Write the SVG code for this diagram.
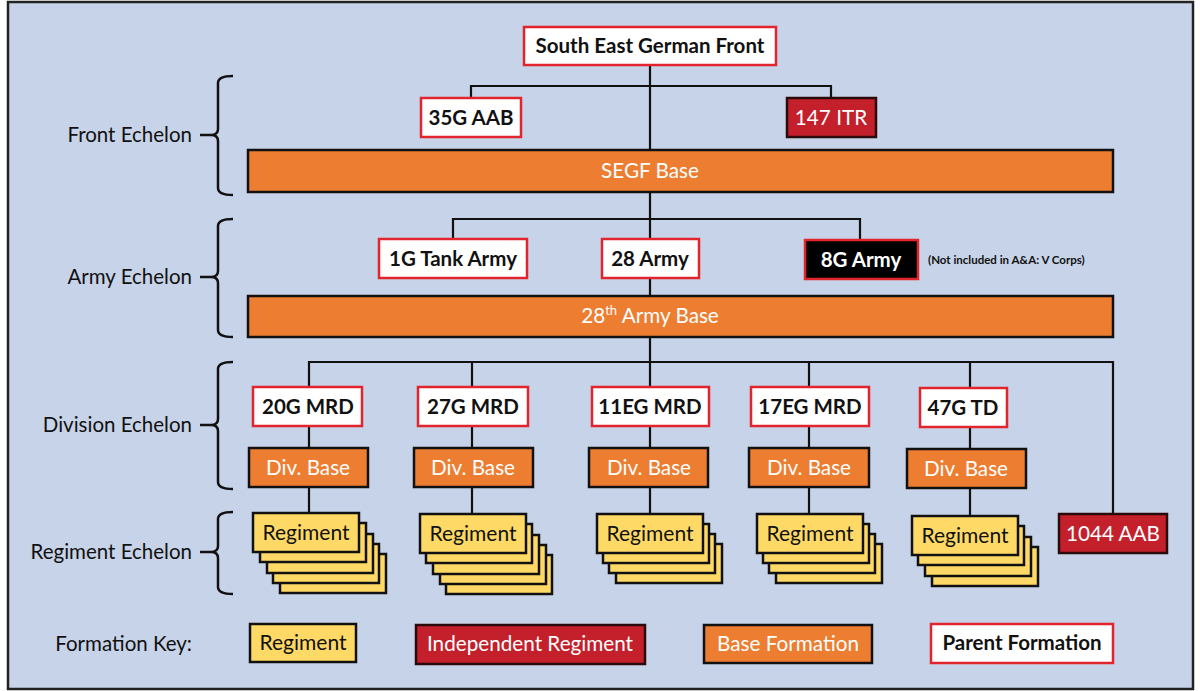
<svg xmlns="http://www.w3.org/2000/svg" width="1200" height="691" viewBox="0 0 1200 691">
<style>
text{font-family:Lato,"Liberation Sans",sans-serif}
.lbl{font-size:20.5px;fill:#111;text-anchor:end}
.par{fill:#fff;stroke:#e2252c;stroke-width:2.5}
.ind{fill:#c3202b;stroke:#2a0a0a;stroke-width:2.5}
.base{fill:#ed7d31;stroke:#111;stroke-width:2.5}
.reg{fill:#ffd966;stroke:#111;stroke-width:2.5}
.blk{fill:#000;stroke:#e2252c;stroke-width:2.5}
.tb{font-size:20.5px;font-weight:bold;fill:#111;text-anchor:middle}
.tw{font-size:20.7px;fill:#fff;text-anchor:middle}
.twb{font-size:20.5px;font-weight:bold;fill:#fff;text-anchor:middle}
.tr{font-size:21px;fill:#111;text-anchor:middle}
.ln{stroke:#111;stroke-width:2.2;fill:none}
.br{stroke:#111;stroke-width:2.5;fill:none}
</style>
<defs>
<g id="rs"><rect class="reg" x="0" y="0" width="106" height="39"/></g>
</defs>
<rect x="8" y="2" width="1185" height="687" fill="#c7d3e8" stroke="#222" stroke-width="2.5"/>

<g id="brackets">
<path class="br" d="M233,76 Q218,76 218,83 L218,129 Q218,135 211,135 Q218,135 218,141 L218,188 Q218,195 233,195 M200,135 L211,135"/>
<path class="br" d="M233,219 Q218,219 218,226 L218,271 Q218,277 211,277 Q218,277 218,283 L218,330 Q218,337 233,337 M200,277 L211,277"/>
<path class="br" d="M233,362 Q218,362 218,369 L218,419 Q218,425 211,425 Q218,425 218,431 L218,482 Q218,489 233,489 M200,425 L211,425"/>
<path class="br" d="M233,512 Q218,512 218,519 L218,546 Q218,552 211,552 Q218,552 218,558 L218,587 Q218,594 233,594 M200,552 L211,552"/>
</g>
<g id="labels">
<text class="lbl" x="192" y="142">Front Echelon</text>
<text class="lbl" x="192" y="284">Army Echelon</text>
<text class="lbl" x="192" y="432">Division Echelon</text>
<text class="lbl" x="192" y="559">Regiment Echelon</text>
<text class="lbl" x="192" y="651">Formation Key:</text>
</g>

<g id="connectors">
<path class="ln" d="M650,65 L650,514"/>
<path class="ln" d="M471,98 L471,86 L831,86 L831,98"/>
<path class="ln" d="M453,239 L453,219 L860,219 L860,240"/>
<path class="ln" d="M309,514 L309,362 L1113,362 L1113,514"/>
<path class="ln" d="M472,362 L472,514"/>
<path class="ln" d="M809,362 L809,514"/>
<path class="ln" d="M970,362 L970,516"/>
</g>

<g id="segf"><rect class="par" x="524" y="27" width="252" height="38"/><text class="tb" x="650" y="53">South East German Front</text></g>
<g id="aab35"><rect class="par" x="421" y="98" width="100" height="39"/><text class="tb" x="471" y="125">35G AAB</text></g>
<g id="itr147"><rect class="ind" x="787" y="98" width="89" height="39"/><text class="tw" x="831" y="125">147 ITR</text></g>
<g id="segfbase"><rect class="base" x="248" y="150" width="865" height="42"/><text class="tw" x="650" y="178">SEGF Base</text></g>

<g id="tank1g"><rect class="par" x="379" y="239" width="148" height="39"/><text class="tb" x="453" y="266">1G Tank Army</text></g>
<g id="army28"><rect class="par" x="602" y="239" width="97" height="39"/><text class="tb" x="650" y="266">28 Army</text></g>
<g id="army8g"><rect class="blk" x="805" y="240" width="113" height="39"/><text class="twb" x="861" y="267">8G Army</text></g>
<text x="928" y="264" font-size="11.5" font-weight="bold" fill="#111">(Not included in A&amp;A: V Corps)</text>
<g id="armybase"><rect class="base" x="248" y="296" width="865" height="41"/><text class="tw" x="650" y="323">28<tspan font-size="13" dy="-8">th</tspan><tspan dy="8"> Army Base</tspan></text></g>

<g id="div20"><rect class="par" x="253" y="387" width="109" height="39"/><text class="tb" x="308" y="414">20G MRD</text>
<rect class="base" x="249" y="448" width="119" height="39"/><text class="tw" x="308" y="475">Div. Base</text></g>
<g id="div27"><rect class="par" x="418" y="387" width="110" height="39"/><text class="tb" x="473" y="414">27G MRD</text>
<rect class="base" x="414" y="448" width="119" height="39"/><text class="tw" x="473" y="475">Div. Base</text></g>
<g id="div11"><rect class="par" x="592" y="387" width="117" height="39"/><text class="tb" x="650" y="414">11EG MRD</text>
<rect class="base" x="589" y="448" width="119" height="39"/><text class="tw" x="649" y="475">Div. Base</text></g>
<g id="div17"><rect class="par" x="751" y="387" width="118" height="39"/><text class="tb" x="810" y="414">17EG MRD</text>
<rect class="base" x="749" y="448" width="120" height="39"/><text class="tw" x="809" y="475">Div. Base</text></g>
<g id="div47"><rect class="par" x="920" y="388" width="87" height="39"/><text class="tb" x="963" y="415">47G TD</text>
<rect class="base" x="907" y="449" width="119" height="39"/><text class="tw" x="966" y="476">Div. Base</text></g>

<g id="reg20">
<use href="#rs" x="280" y="554"/><use href="#rs" x="273" y="544"/><use href="#rs" x="267" y="534"/><use href="#rs" x="260" y="523"/><use href="#rs" x="253" y="513"/>
<text class="tr" x="306" y="540">Regiment</text></g>
<g id="reg27">
<use href="#rs" x="446" y="555"/><use href="#rs" x="440" y="545"/><use href="#rs" x="433" y="535"/><use href="#rs" x="426" y="524"/><use href="#rs" x="420" y="514"/>
<text class="tr" x="473" y="541">Regiment</text></g>
<g id="reg11">
<use href="#rs" x="616" y="544"/><use href="#rs" x="609" y="534"/><use href="#rs" x="603" y="524"/><use href="#rs" x="597" y="514"/>
<text class="tr" x="650" y="541">Regiment</text></g>
<g id="reg17">
<use href="#rs" x="776" y="544"/><use href="#rs" x="769" y="534"/><use href="#rs" x="763" y="524"/><use href="#rs" x="757" y="514"/>
<text class="tr" x="810" y="541">Regiment</text></g>
<g id="reg47">
<use href="#rs" x="932" y="547"/><use href="#rs" x="925" y="537"/><use href="#rs" x="918" y="526"/><use href="#rs" x="912" y="516"/>
<text class="tr" x="965" y="543">Regiment</text></g>
<g id="aab1044"><rect class="ind" x="1059" y="514" width="108" height="39"/><text class="tw" x="1113" y="541">1044 AAB</text></g>

<g id="key">
<rect class="reg" x="250" y="624" width="106" height="38"/><text class="tr" x="303" y="650">Regiment</text>
<rect class="ind" x="416" y="625" width="229" height="39"/><text class="tw" x="530" y="651">Independent Regiment</text>
<rect class="base" x="704" y="625" width="168" height="38"/><text class="tw" x="788" y="651">Base Formation</text>
<rect class="par" x="931" y="624" width="182" height="39"/><text class="tb" x="1022" y="650">Parent Formation</text>
</g>
</svg>
